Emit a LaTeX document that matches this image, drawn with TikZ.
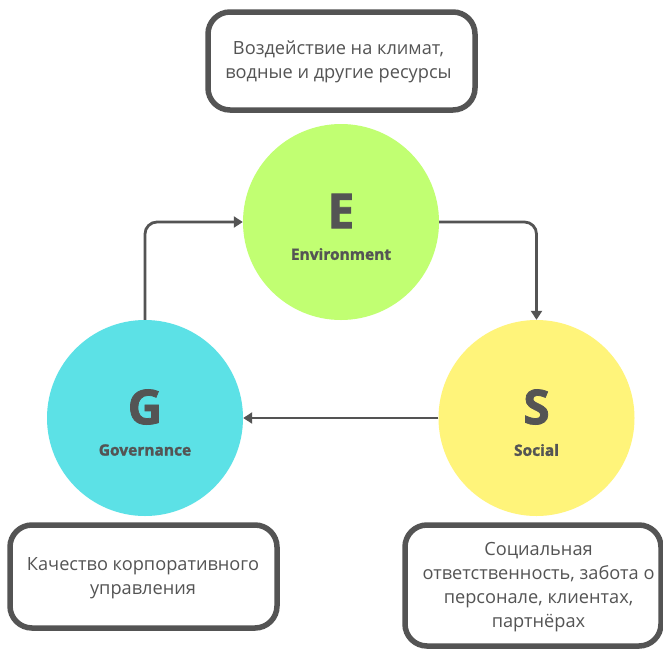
\documentclass[tikz,border=0pt]{standalone}
\usepackage{fontspec}
\setmainfont{Open Sans}
\newfontfamily\heavy{Open Sans}[BoldFeatures={FakeBold=1.6}]
\usetikzlibrary{arrows.meta}
\definecolor{ink}{HTML}{545454}
\definecolor{egreen}{HTML}{C1FF72}
\definecolor{gcyan}{HTML}{5CE1E6}
\definecolor{syellow}{HTML}{FFF47A}
\begin{document}
\begin{tikzpicture}[x=1pt,y=-1pt,
  disc/.style={circle,draw=none,minimum size=196pt,inner sep=0pt},
  letter/.style={text=ink,font=\heavy\fontsize{48}{50}\selectfont\bfseries,inner sep=0pt},
  tag/.style={text=ink,font=\heavy\fontsize{15.5}{17}\selectfont\bfseries,inner sep=0pt},
  infobox/.style={draw=ink,line width=5.5pt,rounded corners=22pt,fill=white,inner sep=0pt},
  infotext/.style={text=ink,align=center,font=\fontsize{18.2}{24}\selectfont,inner sep=0pt},
  arr/.style={draw=ink,line width=2.8pt,rounded corners=12pt,-{Triangle[width=11pt,length=9pt]}}
]
\useasboundingbox (0,0) rectangle (663,648);
\fill[white] (0,0) rectangle (663,648);
% circles
\node[disc,fill=egreen] (E) at (341,222) {};
\node[disc,fill=gcyan] (G) at (145,418) {};
\node[disc,fill=syellow] (S) at (536.5,418) {};
\node[letter] (EL) at (341,211) {E};
\node[tag] (ET) at (341,254) {Environment};
\node[letter] (GL) at (145,407) {G};
\node[tag] (GT) at (145,450) {Governance};
\node[letter] (SL) at (536.5,407) {S};
\node[tag] (ST) at (536.5,450) {Social};
% connectors
\draw[arr] (E.east) -| (S.north);
\draw[arr] (S.west) -- (G.east);
\draw[arr] (G.north) |- (E.west);
% boxes
\draw[infobox] (208,12) rectangle (475,110);
\node[infotext] (T1) at (338.5,62) {Воздействие на климат,\\водные и другие ресурсы};
\draw[infobox] (10,525) rectangle (277,628);
\node[infotext] (T2) at (143,578) {Качество корпоративного\\управления};
\draw[infobox] (405,525) rectangle (661,646);
\node[infotext] (T3) at (538.5,587) {Социальная\\ответственность, забота о\\персонале, клиентах,\\партнёрах};
\end{tikzpicture}
\end{document}
